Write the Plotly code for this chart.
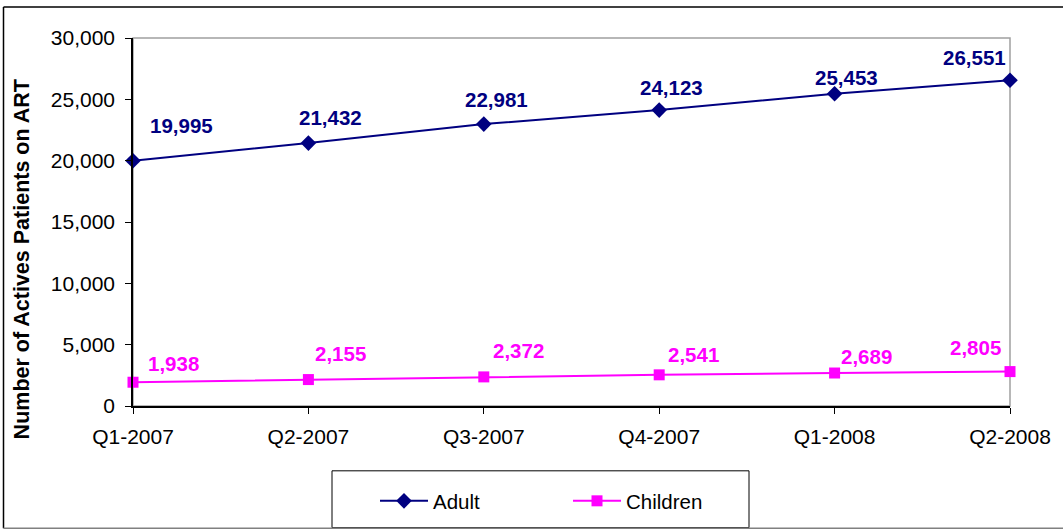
import plotly.graph_objects as go

quarters = ["Q1-2007", "Q2-2007", "Q3-2007", "Q4-2007", "Q1-2008", "Q2-2008"]
adult = [19995, 21432, 22981, 24123, 25453, 26551]
children = [1938, 2155, 2372, 2541, 2689, 2805]
y_ticks = [0, 5000, 10000, 15000, 20000, 25000, 30000]

# label offsets in pixels (style only)
adult_off = [(48, 35), (22, 26), (13, 25), (12, 23), (12, 16), (-36, 23)]
child_off = [(40, 19), (32, 26), (35, 26), (34, 20), (32, 17), (-35, 24)]

xs = list(range(len(quarters)))
FONT = "Liberation Sans, Arial, sans-serif"
NAVY = "#000080"
MAG = "#FF00FF"

fig = go.Figure()
fig.add_trace(go.Scatter(x=xs, y=adult, name="Adult", mode="lines+markers",
                         line=dict(color=NAVY, width=2),
                         marker=dict(symbol="diamond", size=12, color=NAVY),
                         cliponaxis=False))
fig.add_trace(go.Scatter(x=xs, y=children, name="Children", mode="lines+markers",
                         line=dict(color=MAG, width=2),
                         marker=dict(symbol="square", size=11, color=MAG),
                         cliponaxis=False))

anns = []
for i, v in enumerate(adult):
    dx, dy = adult_off[i]
    anns.append(dict(x=xs[i], y=v, text=f"{v:,}", showarrow=False, xshift=dx, yshift=dy,
                     font=dict(family=FONT, size=20.5, color=NAVY, weight="bold")))
for i, v in enumerate(children):
    dx, dy = child_off[i]
    anns.append(dict(x=xs[i], y=v, text=f"{v:,}", showarrow=False, xshift=dx, yshift=dy,
                     font=dict(family=FONT, size=20.5, color=MAG, weight="bold")))
anns.append(dict(xref="paper", yref="paper", x=(22 - 133) / 877, y=(407 - 260) / 369,
                 text="Number of Actives Patients on ART", textangle=-90, showarrow=False,
                 font=dict(family=FONT, size=21.5, color="black", weight="bold"),
                 xanchor="center", yanchor="middle"))

shapes = [
    # plot area frame (gray)
    dict(type="rect", xref="paper", yref="paper", x0=0, x1=1, y0=0, y1=1,
         line=dict(color="#a0a0a0", width=1.5), layer="below"),
    # legend box
    dict(type="rect", xref="paper", yref="paper",
         x0=(332 - 133) / 877, x1=(749 - 133) / 877,
         y0=(407 - 529) / 369, y1=(407 - 472) / 369,
         line=dict(color="black", width=1), fillcolor="white", layer="below"),
    # outer chart border
    dict(type="line", xref="paper", yref="paper", x0=(3.5 - 133) / 877, x1=(1063 - 133) / 877,
         y0=(407 - 7) / 369, y1=(407 - 7) / 369, line=dict(color="black", width=1.5)),
    dict(type="line", xref="paper", yref="paper", x0=(3.5 - 133) / 877, x1=(3.5 - 133) / 877,
         y0=(407 - 7) / 369, y1=(407 - 529.5) / 369, line=dict(color="black", width=1.5)),
    dict(type="line", xref="paper", yref="paper", x0=(3.5 - 133) / 877, x1=(1063 - 133) / 877,
         y0=(407 - 529.5) / 369, y1=(407 - 529.5) / 369, line=dict(color="#808080", width=1.5)),
]

fig.update_layout(
    width=1063, height=532,
    margin=dict(l=133, r=53, t=38, b=125),
    paper_bgcolor="white", plot_bgcolor="white",
    font=dict(family=FONT, size=21, color="black"),
    showlegend=True,
    legend=dict(orientation="h", x=(375 - 133) / 877, y=(407 - 501) / 369,
                xanchor="left", yanchor="middle", bgcolor="rgba(0,0,0,0)",
                font=dict(family=FONT, size=20.5, color="black"),
                itemwidth=48, entrywidth=130, entrywidthmode="pixels"),
    annotations=anns,
    shapes=shapes,
    xaxis=dict(range=[0, 5], tickmode="array", tickvals=xs, ticktext=quarters,
               showgrid=False, zeroline=False, showline=True, linecolor="black", linewidth=1.5,
               ticks="outside", ticklen=6, tickcolor="black", ticklabelstandoff=5,
               tickfont=dict(family=FONT, size=21, color="black")),
    yaxis=dict(range=[0, 30000], tickmode="array", tickvals=y_ticks, tickformat=",d",
               showgrid=False, zeroline=False, showline=True, linecolor="black", linewidth=1.5,
               ticks="outside", ticklen=6, tickcolor="black", ticklabelstandoff=6,
               tickfont=dict(family=FONT, size=21, color="black")),
)

fig.write_html("out.html", config={"displayModeBar": False},
               post_script="document.body.style.margin='0';document.body.style.overflow='hidden';")
